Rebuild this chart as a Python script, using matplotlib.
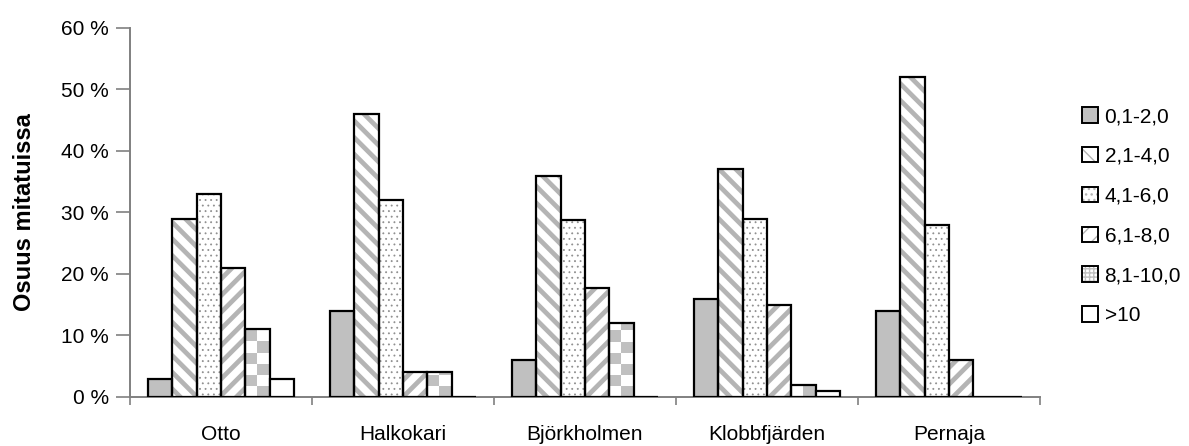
import numpy as np
import matplotlib
matplotlib.use("Agg")
import matplotlib.pyplot as plt
from matplotlib.patches import Patch
from matplotlib.colors import ListedColormap

plt.rcParams["font.family"] = ["Liberation Sans", "DejaVu Sans"]

sites = ["Otto", "Halkokari", "Björkholmen", "Klobbfjärden", "Pernaja"]
classes = ["0,1-2,0", "2,1-4,0", "4,1-6,0", "6,1-8,0", "8,1-10,0", ">10"]
v_0_2 = [3, 14, 6, 16, 14]
v_2_4 = [29, 46, 36, 37, 52]
v_4_6 = [33, 32, 28.7, 29, 28]
v_6_8 = [21, 4, 17.7, 15, 6]
v_8_10 = [11, 4, 12, 2, 0]
v_10 = [3, 0, 0, 1, 0]
series = [v_0_2, v_2_4, v_4_6, v_6_8, v_8_10, v_10]

GRAY = "#b4b4b4"
# facecolor, hatch, hatch linewidth
styles = [
    ("#c0c0c0", None, 1.0),
    ("white", "\\\\", 3.4),
    ("white", "...", 0.6),
    ("white", "//", 3.4),
    ("none", "checker", 1.0),
    ("white", None, 1.0),
]

fig = plt.figure(figsize=(11.89, 4.46), dpi=100)
ax = fig.add_axes([0.1093, 0.1099, 0.7653, 0.8274])

x = np.arange(len(sites))
w = 0.134
checker_cmap = ListedColormap(["white", "#c0c0c0"])
for i, (vals, (fc, hatch, hlw)) in enumerate(zip(series, styles)):
    pos = x + (i - 2.5) * w
    if hatch in ("\\\\", "//", "..."):
        with plt.rc_context({"hatch.linewidth": hlw}):
            ax.bar(pos, vals, width=w, facecolor=fc,
                   edgecolor=GRAY if hatch != "..." else "#909090",
                   linewidth=0, hatch=hatch, zorder=2)
        bars = ax.bar(pos, vals, width=w, facecolor="none", edgecolor="black",
                      linewidth=1.6, zorder=3)
    else:
        bars = ax.bar(pos, vals, width=w, facecolor=fc, edgecolor="black",
                      linewidth=1.6, zorder=3)
    if hatch == "checker":
        cell = 1.8
        for b in bars:
            if b.get_height() <= 0:
                continue
            m = int(np.ceil(b.get_height() / cell))
            grid = (np.add.outer(np.arange(m), np.arange(2)) % 2).astype(float)
            im = ax.imshow(grid, cmap=checker_cmap, vmin=0, vmax=1,
                           extent=(b.get_x(), b.get_x() + w, 0, m * cell),
                           origin="lower", aspect="auto", interpolation="nearest", zorder=2)
            im.set_clip_path(b)

ax.set_xlim(-0.5, len(sites) - 0.5)
ax.set_ylim(0, 60)
ax.set_aspect("auto")
ax.set_yticks(range(0, 61, 10))
ax.set_yticklabels([f"{t} %" for t in range(0, 61, 10)], fontsize=15)
ax.set_xticks(x)
ax.set_xticklabels(sites, fontsize=15)
ax.set_xticks(np.arange(-0.5, len(sites), 1), minor=True)
ax.tick_params(axis="x", which="major", length=0, pad=20)
ax.tick_params(axis="x", which="minor", length=6, color="#808080", width=1.2)
ax.tick_params(axis="y", length=10, color="#808080", width=1.2, pad=5)
for s in ["top", "right"]:
    ax.spines[s].set_visible(False)
for s in ["left", "bottom"]:
    ax.spines[s].set_color("#808080")
    ax.spines[s].set_linewidth(1.4)
ax.set_ylabel("Osuus mitatuissa", fontsize=17, fontweight="bold", labelpad=18)

handles = []
for fc, hatch, hlw in styles:
    if hatch == "checker":
        h = (Patch(facecolor="white", edgecolor="#c0c0c0", linewidth=0, hatch="++++"),
             Patch(facecolor="none", edgecolor="black", linewidth=1.4))
    elif hatch:
        h = (Patch(facecolor="white", edgecolor=GRAY, linewidth=0, hatch=hatch),
             Patch(facecolor="none", edgecolor="black", linewidth=1.4))
    else:
        h = Patch(facecolor=fc, edgecolor="black", linewidth=1.4)
    handles.append(h)
ax.legend(handles, classes, loc="center left", bbox_to_anchor=(1.026, 0.49), frameon=False,
          fontsize=15, handlelength=0.77, handleheight=0.77, handletextpad=0.3,
          labelspacing=1.0)

fig.savefig("out.png", dpi=100)
